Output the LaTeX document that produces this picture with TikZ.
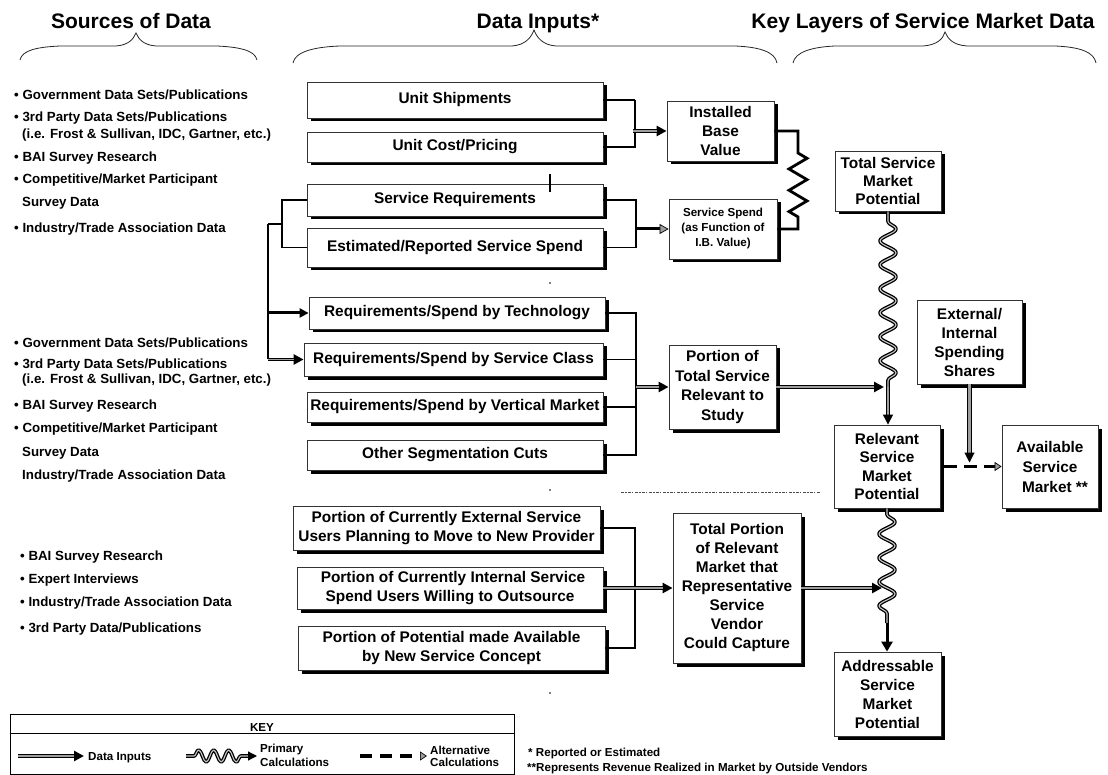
\documentclass[tikz,border=0pt]{standalone}
\usepackage{fontspec}
\setmainfont{Liberation Sans}
\usetikzlibrary{arrows.meta,shadows,decorations.pathmorphing,calc}
\newcommand{\myfs}[2]{\fontsize{#1}{#2}\selectfont}
\definecolor{shaft}{gray}{0.62}

\tikzset{
  title/.style={anchor=base, inner sep=0pt, font=\bfseries\myfs{21}{25}},
  item/.style={anchor=base west, inner sep=0pt, font=\bfseries\myfs{13.3}{16}},
  keytxt/.style={inner sep=0pt, font=\bfseries\myfs{11.6}{14}},
  sz/.style 2 args={minimum width=#1pt, minimum height=#2pt},
  box/.style={draw=black!80, line width=0.8pt, fill=white, inner sep=0pt, align=center,
    font=\bfseries\myfs{15.4}{19},
    drop shadow={shadow xshift=3.5pt, shadow yshift=-3.5pt, fill=black, opacity=1}},
  brace/.style={draw=black!85, line width=0.8pt},
  conn/.style={draw=black, line width=1.5pt},
  thickconn/.style={draw=black, line width=2.8pt},
  % gray-cored input arrow with a solid head
  datain/.style={draw=black, line width=3.6pt, -{Triangle[length=10pt,width=10pt]},
    postaction={draw=shaft, line width=1.6pt, arrows=-, shorten >=10pt}},
  % double-lined input arrow with an open head
  datainh/.style={draw=black, line width=1pt, double=shaft, double distance=2.2pt,
    -{Triangle[length=10pt,width=10pt]}},
  datainb/.style={draw=black, line width=3pt, -{Triangle[length=9pt,width=10pt,fill=shaft,line width=0.7pt]}},
  solidarrow/.style={draw=black, line width=3pt, -{Triangle[length=10pt,width=11pt]}},
  primary/.style={draw=black, line width=1.3pt, double=gray!45, double distance=1.1pt, line join=round},
  spring/.style={draw=black, line width=2.8pt, line join=miter},
  alt/.style={draw=black, line width=3.6pt, dash pattern=on 13pt off 7pt,
    -{Triangle[length=7pt,width=9pt,fill=shaft,line width=0.7pt]}},
}

\begin{document}
\begin{tikzpicture}[x=1pt,y=-1pt]
\useasboundingbox (0,0) rectangle (1108,775);

% column headings
\node[title] (h1) at (131,29) {Sources of Data};
\node[title] (h2) at (538,29) {Data Inputs*};
\node[title] (h3) at (923,29) {Key Layers of Service Market Data};

% braces under the headings
\draw[brace] (20,60) .. controls (22,50) and (38,47) .. (60,46) -- (116,46)
  .. controls (128,45) and (133,40) .. (136,33) .. controls (139,40) and (144,45) .. (156,46)
  -- (217,46) .. controls (238,47) and (255,50) .. (257,60);
\draw[brace] (293,63) .. controls (295,52) and (313,47) .. (340,46) -- (512,46)
  .. controls (525,45) and (531,38) .. (534,30) .. controls (537,38) and (543,45) .. (556,46)
  -- (735,46) .. controls (760,47) and (775,52) .. (777,63);
\draw[brace] (793,63) .. controls (795,52) and (812,47) .. (835,46) -- (923,46)
  .. controls (937,45) and (943,39) .. (945,32) .. controls (948,39) and (953,45) .. (967,46)
  -- (1055,46) .. controls (1080,47) and (1094,52) .. (1096,63);

% sources, first group
\node[item] (a1) at (14,100) {•\ Government Data Sets/Publications};
\node[item] (a2) at (14,122) {•\ 3rd Party Data Sets/Publications};
\node[item] (a3) at (22,139) {(i.e. Frost \& Sullivan, IDC, Gartner, etc.)};
\node[item] (a4) at (14,162) {•\ BAI Survey Research};
\node[item] (a5) at (14,184) {•\ Competitive/Market Participant};
\node[item] (a6) at (22,207) {Survey Data};
\node[item] (a7) at (14,233) {•\ Industry/Trade Association Data};

% sources, second group
\node[item] (b1t) at (14,348) {•\ Government Data Sets/Publications};
\node[item] (b2t) at (14,368) {•\ 3rd Party Data Sets/Publications};
\node[item] (b3t) at (22,383) {(i.e. Frost \& Sullivan, IDC, Gartner, etc.)};
\node[item] (b4t) at (14,409) {•\ BAI Survey Research};
\node[item] (b5t) at (14,432) {•\ Competitive/Market Participant};
\node[item] (b6t) at (22,456) {Survey Data};
\node[item] (b7t) at (22,479) {Industry/Trade Association Data};

% sources, third group
\node[item] (c1t) at (20,560) {•\ BAI Survey Research};
\node[item] (c2t) at (20,583) {•\ Expert Interviews};
\node[item] (c3t) at (20,606) {•\ Industry/Trade Association Data};
\node[item] (c4t) at (20,632) {•\ 3rd Party Data/Publications};

% data input boxes
\node[box, sz={296}{36}] (us) at (455,100) {Unit Shipments};
\node[box, sz={296}{30}] (uc) at (455,147) {Unit Cost/Pricing};
\node[box, sz={296}{32}] (sr) at (455,200) {Service Requirements};
\node[box, sz={296}{39}] (es) at (455,247.5) {Estimated/Reported Service Spend};
\node[box, sz={296}{32}] (rt) at (457,313) {Requirements/Spend by Technology};
\node[box, sz={299}{33}] (rc) at (453.5,359.5) {Requirements/Spend by Service Class};
\node[box, sz={296}{30}] (rv) at (455,407) {Requirements/Spend by Vertical Market};
\node[box, sz={296}{30}] (os) at (455,455) {Other Segmentation Cuts};
\node[box, sz={307}{44}] (pe) at (446.5,528) {Portion of Currently External Service\\Users Planning to Move to New Provider};
\node[box, sz={306}{42}] (pi) at (450,588) {\hspace{6pt}Portion of Currently Internal Service\\Spend Users Willing to Outsource};
\node[box, sz={307}{44}] (pp) at (451.5,648) {Portion of Potential made Available\\by New Service Concept};

% intermediate results
\node[box, sz={107}{60}] (ib) at (720.5,131) {Installed\\Base\\Value};
\node[box, sz={108}{60}, font=\bfseries\myfs{11.6}{15}] (ss) at (723,229) {Service Spend\\(as Function of\\I.B. Value)};
\node[box, sz={107}{84}, font=\bfseries\myfs{15.4}{19.4}] (pt) at (722.5,387) {Portion of\\Total Service\\Relevant to\\Study};
\node[box, sz={128}{150}] (tp) at (737,588) {Total Portion\\of Relevant\\Market that\\Representative\\Service\\Vendor\\Could Capture};

% key layers
\node[box, sz={106}{60}, font=\bfseries\myfs{15.4}{18}] (ts) at (888,181) {Total Service\\Market\\Potential};
\node[box, sz={105}{84}] (ei) at (969.5,342) {External/\\Internal\\Spending\\Shares};
\node[box, sz={106}{83}, font=\bfseries\myfs{15.4}{18.5}] (rs) at (887,466.5) {Relevant\\Service\\Market\\Potential};
\node[box, sz={96}{83}, font=\bfseries\myfs{15.4}{20}] (av) at (1050,466.5) {Available\\Service\\\hspace{10pt}Market **};
\node[box, sz={107}{84}] (ad) at (887.5,694) {Addressable\\Service\\Market\\Potential};

% unit shipments and cost feed the installed base
\coordinate (j1) at (ib.west -| 633,0);
\draw[thickconn] (us.east) -- (us.east -| 635,0);
\draw[conn] (us.east -| 635,0) -- (uc.east -| 635,0) -- (uc.east);
\draw[datain] (j1) -- (ib.west);

% requirements and spend feed the service spend
\coordinate (j2) at (ss.west -| 636,0);
\draw[conn] (sr.east) -| (j2) |- (es.east);
\draw[datainb] (j2) -- (ss.west);

% requirements and spend also feed the segmentation cuts
\coordinate (j3) at (282,224);
\coordinate (j4) at (268,224);
\draw[conn] (sr.west) -| (j3) |- (es.west);
\draw[thickconn] (j3) -- (j4);
\draw[conn] (j4) -- (j4 |- rc.west);
\draw[solidarrow, -{Triangle[length=9pt,width=9pt]}] (j4 |- rt.west) -- (rt.west);
\draw[datain] (j4 |- rc.west) -- (rc.west);

% segmentation cuts give the relevant portion
\coordinate (j5) at (pt.west -| 636,0);
\draw[conn] (rt.east) -- (rt.east -| j5) -- (os.east -| j5) -- (os.east);
\draw[conn] (rc.east) -- (rc.east -| j5);
\draw[thickconn] (rv.east) -- (rv.east -| j5);
\draw[datain] (j5) -- (pt.west);

% capture factors give the total portion
\coordinate (j6) at (tp.west -| 635,0);
\draw[conn] (pe.east) -| (j6) |- (pp.east);
\draw[datain] (pi.east) -- (pi.east -| tp.west);

% installed base value to service spend
\coordinate (s1) at (ib.east -| 798,0);
\coordinate (s2) at (ss.east -| s1);
\draw[spring] (ib.east) -- (s1) -- ($(s1)+(0,22)$)
  decorate[decoration={zigzag, segment length=21.3pt, amplitude=9pt}] {-- ($(s2)+(0,-12)$)}
  -- (s2) -- (ss.east);

% total potential narrowed to relevant potential
\coordinate (w1) at (ts.south |- pt.east);
\draw[primary, decorate, decoration={snake, segment length=24pt, amplitude=8pt, pre length=10pt, post length=2pt}]
  (ts.south) -- (w1);
\draw[datain] (pt.east) -- ([xshift=-4pt]w1);
\draw[datainh] (w1) -- (w1 |- rs.north);

% relevant potential narrowed to addressable potential
\coordinate (w2) at (rs.south |- 0,623);
\draw[primary, decorate, decoration={snake, segment length=24pt, amplitude=8pt, pre length=6pt, post length=2pt}]
  (rs.south) -- (w2);
\draw[datain] (tp.east) -- ([xshift=-5pt]tp.east -| w2);
\draw[solidarrow] (w2) -- (w2 |- ad.north);

% spending shares give the available market
\coordinate (w3) at (ei.south |- rs.east);
\draw[datainh] (ei.south) -- ([yshift=4pt]w3);
\draw[alt] ([xshift=4pt]rs.east) -- (av.west);

% faint marks in the drawing
\draw[line width=1.3pt] (550,174) -- (550,192);
\fill (550,283) circle (0.8);
\fill (550,490) circle (0.8);
\fill (550,693) circle (0.8);
\draw[black!70, line width=0.7pt, dash pattern=on 2.5pt off 1pt on 2.5pt off 1pt on 2.5pt off 1pt on 1.5pt off 2pt]
  (621,492) -- (820,492);

% key
\node[draw=black, line width=0.8pt, minimum width=504pt, minimum height=60pt, inner sep=0pt] (key) at (262,744) {};
\draw[line width=0.8pt] (key.west |- 0,733) -- (key.east |- 0,733);
\node[keytxt, anchor=base] (keyt) at (262,731) {KEY};
\coordinate (k1) at (18,756);
\coordinate (k2) at (84,756);
\draw[datain] (k1) -- (k2);
\node[keytxt, anchor=base west] (kt1) at (88,760) {Data Inputs};
\coordinate (k3) at (186,756);
\coordinate (k4) at (257,756);
\draw[primary, decorate, decoration={snake, segment length=15pt, amplitude=6pt, pre length=8pt, post length=12pt},
  -{Triangle[length=9pt,width=9pt]}] (k3) -- (k4);
\node[keytxt, anchor=base west] (kt2) at (260,752) {Primary};
\node[keytxt, anchor=base west] (kt3) at (260,766) {Calculations};
\coordinate (k5) at (360,756);
\coordinate (k6) at (427,756);
\draw[alt, dash pattern=on 12pt off 8pt] (k5) -- (k6);
\node[keytxt, anchor=base west] (kt4) at (430,754) {Alternative};
\node[keytxt, anchor=base west] (kt5) at (430,766) {Calculations};

% footnotes
\node[keytxt, anchor=base west] (n1) at (528,756) {* Reported or Estimated};
\node[keytxt, anchor=base west] (n2) at (527,771) {**Represents Revenue Realized in Market by Outside Vendors};
\end{tikzpicture}
\end{document}
